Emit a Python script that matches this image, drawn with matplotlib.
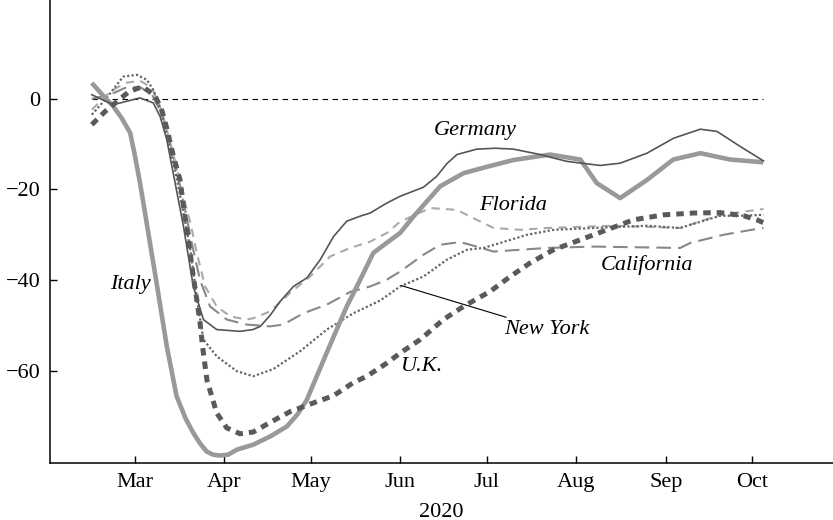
import matplotlib
matplotlib.use('Agg')
import matplotlib.pyplot as plt

plt.rcParams['font.family'] = ['Liberation Serif', 'DejaVu Serif']
plt.rcParams['axes.unicode_minus'] = True

# mobility change vs baseline (%), day of year 2020 (Jan 1 = 0)
germany_x = [45.0, 52.4, 61.7, 66.3, 68.7, 71.0, 73.9, 76.8, 80.2, 83.7, 88.3, 96.4,
             100.9, 103.4, 106.8, 110.3, 114.9, 119.6, 124.2, 128.8, 133.4, 138.0,
             141.5, 147.3, 151.9, 160.0, 164.6, 168.1, 171.6, 178.5, 185.0, 191.2,
             200.5, 209.7, 221.3, 228.2, 237.5, 246.7, 256.0, 261.8, 269.8, 277.9]
germany_y = [0.9, -1.3, 0.2, -0.9, -3.9, -9.0, -18.6, -28.2, -41.4, -48.7, -50.9, -51.3,
             -50.9, -50.2, -47.8, -44.7, -41.4, -39.5, -35.5, -30.4, -27.0, -25.9,
             -25.2, -23.0, -21.5, -19.5, -17.1, -14.3, -12.3, -11.1, -10.9, -11.1,
             -12.3, -13.8, -14.7, -14.2, -12.0, -8.7, -6.7, -7.2, -10.5, -13.7]

italy_x = [45.0, 48.5, 52.5, 55.4, 58.3, 60.0, 61.7, 64.6, 67.3, 71.0, 74.4, 77.5, 80.2,
           82.5, 84.8, 87.0, 89.5, 92.3, 95.3, 101.0, 106.8, 112.6, 116.2, 119.5, 126.4,
           133.4, 138.0, 142.6, 147.2, 151.9, 156.5, 165.8, 173.9, 182.0, 191.2, 203.9,
           214.4, 220.1, 228.2, 237.5, 246.6, 256.0, 266.4, 277.8]
italy_y = [3.5, 1.0, -1.7, -4.3, -7.5, -12.7, -18.5, -29.6, -40.0, -54.6, -65.6, -70.5,
           -73.7, -76.0, -77.8, -78.5, -78.7, -78.5, -77.4, -76.3, -74.5, -72.3, -69.7,
           -66.5, -56.1, -45.8, -40.0, -34.0, -31.8, -29.6, -26.0, -19.3, -16.4, -15.0,
           -13.5, -12.3, -13.4, -18.6, -21.9, -17.9, -13.4, -12.0, -13.4, -14.0]

florida_x = [45.0, 51.3, 56.5, 61.7, 65.9, 69.4, 72.8, 75.6, 77.3, 79.1, 81.4, 84.3,
             88.3, 93.0, 98.7, 101.0, 106.8, 113.8, 120.7, 127.6, 134.6, 141.5, 147.3,
             151.9, 162.3, 171.6, 178.5, 184.3, 193.5, 202.8, 225.9, 249.0, 262.9,
             277.9]
florida_y = [-2.4, 1.5, 3.5, 4.0, 2.4, -2.9, -11.2, -17.9, -22.9, -27.1, -34.0, -41.4,
             -45.8, -48.0, -48.7, -48.4, -46.9, -42.8, -39.2, -34.8, -32.9, -31.5, -29.6,
             -27.1, -24.1, -24.5, -26.7, -28.5, -28.9, -28.5, -28.0, -28.5, -25.6,
             -24.3]

california_x = [45.0, 51.3, 56.5, 61.7, 65.9, 69.4, 72.8, 76.3, 79.8, 82.5, 86.0, 91.8,
                98.7, 106.8, 111.4, 118.4, 126.5, 134.6, 141.5, 147.3, 151.9, 160.0,
                165.8, 172.7, 178.5, 184.3, 193.5, 202.8, 219.0, 249.0, 252.5, 264.0,
                275.6, 277.9]
california_y = [0.0, 0.9, 2.4, 2.6, 0.9, -3.5, -11.2, -21.2, -32.2, -39.9, -45.8, -48.7,
                -49.8, -50.2, -49.8, -47.3, -45.4, -42.6, -41.4, -39.9, -38.1, -34.4,
                -32.2, -31.6, -32.6, -33.7, -33.3, -32.9, -32.6, -32.9, -31.8, -30.0,
                -28.7, -28.5]

newyork_x = [45.0, 49.6, 55.9, 60.6, 64.1, 66.3, 68.7, 71.4, 74.2, 76.6, 79.1, 82.0,
             83.7, 88.3, 95.3, 101.0, 108.0, 117.2, 126.5, 135.7, 145.0, 151.9, 160.0,
             168.1, 175.1, 180.8, 186.6, 195.9, 205.1, 219.0, 237.5, 249.0, 252.5,
             262.9, 269.8, 277.9]
newyork_y = [-3.5, -0.2, 4.9, 5.3, 4.2, 2.0, -2.0, -9.0, -16.8, -24.5, -33.0, -46.5,
             -53.1, -56.8, -60.1, -61.2, -59.6, -55.7, -50.9, -47.3, -44.5, -41.4, -39.2,
             -35.5, -33.3, -32.9, -31.8, -30.0, -28.9, -28.5, -28.0, -28.5, -27.8,
             -25.8, -25.8, -25.6]

uk_x = [45.0, 49.6, 53.7, 57.9, 62.6, 66.9, 69.3, 71.0, 73.3, 75.6, 76.8, 77.9, 79.1,
        80.2, 81.4, 82.5, 83.4, 84.9, 88.3, 91.8, 96.4, 101.0, 106.8, 113.8, 121.8,
        128.8, 135.7, 140.4, 147.3, 151.9, 158.9, 166.9, 173.9, 183.1, 190.1, 197.0,
        205.1, 214.4, 223.6, 232.8, 243.2, 253.6, 262.9, 271.0, 275.6, 277.8]
uk_y = [-5.7, -2.8, -0.6, 1.6, 2.7, 0.7, -2.6, -6.5, -12.7, -17.9, -23.7, -28.4, -34.0,
        -39.2, -44.3, -49.2, -54.6, -62.0, -69.3, -72.6, -73.9, -73.5, -71.4, -69.0,
        -67.1, -65.5, -62.6, -61.2, -58.3, -56.1, -53.1, -48.7, -45.8, -42.5, -39.2,
        -36.2, -33.3, -31.1, -28.9, -26.7, -25.6, -25.2, -25.1, -25.8, -26.7, -27.3]

month_days = [60, 91, 121, 152, 182, 213, 244, 274]
month_labels = ['Mar', 'Apr', 'May', 'Jun', 'Jul', 'Aug', 'Sep', 'Oct']
y_ticks = [0, -20, -40, -60]


def main():
    fig = plt.figure(figsize=(8.33, 5.2), dpi=100)
    ax = fig.add_axes([0.060, 0.110, 0.940, 0.890])

    # zero reference line over the data range
    ax.plot([germany_x[0], germany_x[-1]], [0, 0], color='black', lw=0.8,
            dashes=(5, 4))

    ax.plot(california_x, california_y, color='#888888', lw=1.5, dashes=(7, 3.4))
    ax.plot(florida_x, florida_y, color='#aaaaaa', lw=1.5, dashes=(4, 3))
    ax.plot(newyork_x, newyork_y, color='#666666', lw=1.6, dashes=(1, 1))
    ax.plot(italy_x, italy_y, color='#999999', lw=3.3, solid_capstyle='butt',
            solid_joinstyle='round')
    ax.plot(germany_x, germany_y, color='#555555', lw=1.2, solid_joinstyle='round')
    ax.plot(uk_x, uk_y, color='#5a5a5a', lw=3.6, dashes=(1.5, 1.2))

    # series labels
    lab = dict(fontsize=16, style='italic', va='center')
    ax.text(58.3, -41.0, 'Italy', ha='center', **lab)
    ax.text(177.9, -7.1, 'Germany', ha='center', **lab)
    ax.text(191.1, -23.6, 'Florida', ha='center', **lab)
    ax.text(237.6, -36.6, 'California', ha='center', **lab)
    ax.text(159.4, -59.1, 'U.K.', ha='center', **lab)
    ax.annotate('New York', xy=(152.3, -41.2), xytext=(188.0, -50.9),
                ha='left', arrowprops=dict(arrowstyle='-', lw=0.8, color='black',
                                           shrinkA=0, shrinkB=0), **lab)

    ax.set_xlim(30.5, 302)
    ax.set_ylim(-80.3, 21.8)
    ax.set_xticks(month_days)
    ax.set_xticklabels(month_labels)
    ax.set_yticks(y_ticks)
    ax.set_xlabel('2020', fontsize=16, labelpad=8)

    ax.spines['top'].set_visible(False)
    ax.spines['right'].set_visible(False)
    for s in ['left', 'bottom']:
        ax.spines[s].set_linewidth(1.1)
    ax.tick_params(direction='in', length=5, width=1, labelsize=16, pad=7)

    fig.savefig('out.png', dpi=100)


if __name__ == "__main__":
    main()
